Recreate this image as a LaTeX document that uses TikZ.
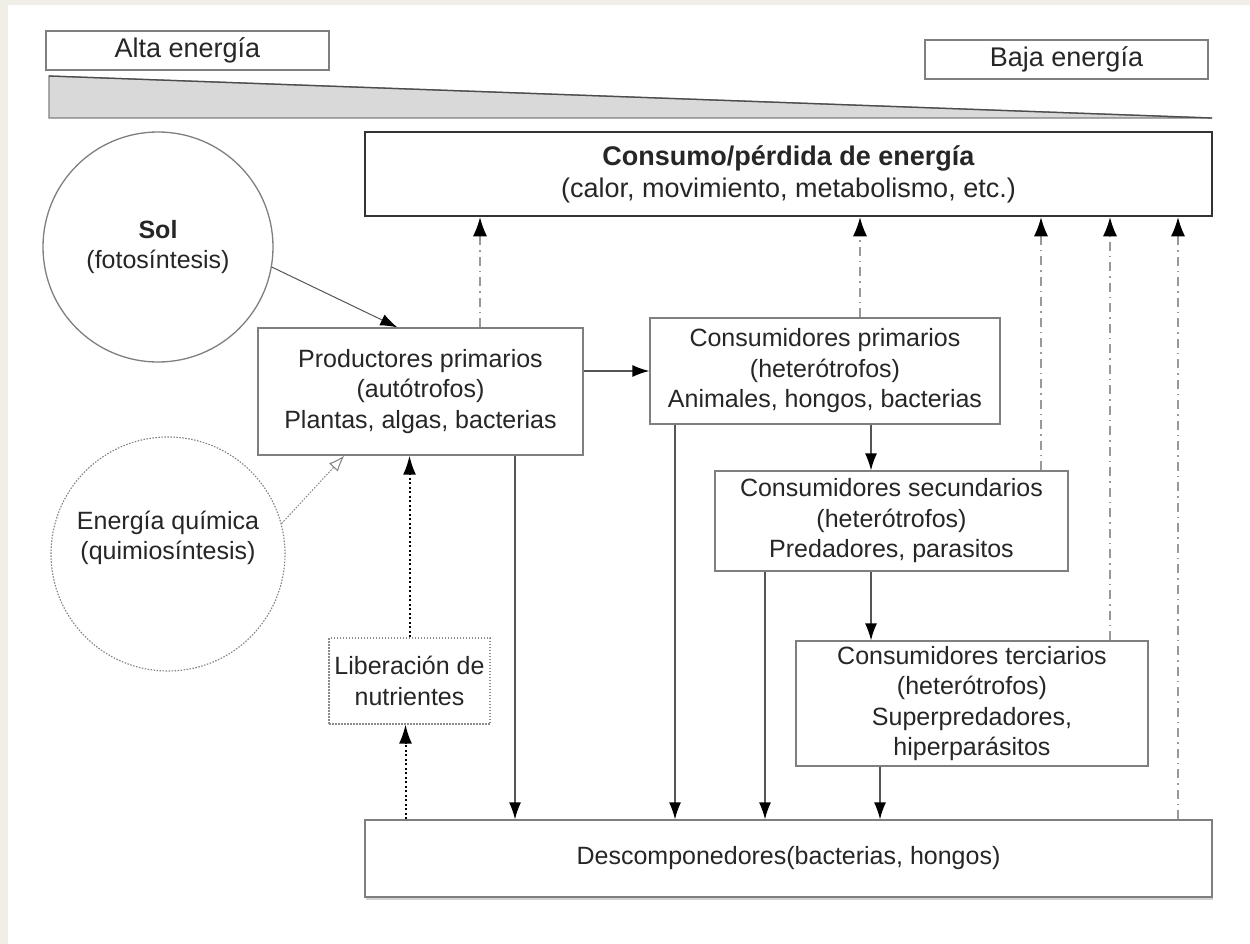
\documentclass[tikz,border=0pt]{standalone}
\usepackage{fontspec}
\setmainfont{Liberation Sans}
\usetikzlibrary{positioning}
\usetikzlibrary{calc}
\usetikzlibrary{arrows.meta}
\usetikzlibrary{shadows}

\definecolor{fondo}{HTML}{F1EEE7}
\definecolor{borde}{HTML}{7F7F7F}
\definecolor{linea}{HTML}{555555}
\definecolor{cuna}{HTML}{D9D9D9}

\tikzset{
    caja/.style={draw=borde, line width=1.3pt, fill=white, align=center, inner sep=0pt,
        text=black!85, font=\fontsize{25}{30.5}\selectfont},
    flecha/.style={-{Latex[length=17pt,width=12pt,color=black]}, draw=linea, line width=1.3pt},
    perdida/.style={-{Latex[length=19pt,width=14pt,color=black]}, draw=black!40, line width=1.3pt,
        dash pattern=on 9pt off 5pt on 1.5pt off 5pt},
    liberado/.style={-{Latex[length=19pt,width=13pt]}, black, line width=2pt,
        dash pattern=on 2pt off 2.5pt},
}

\begin{document}
\begin{tikzpicture}[x=1pt, y=-1pt]
    \useasboundingbox (0,0) rectangle (1250,944);
    \fill[fondo] (0,0) rectangle (1250,944);
    \fill[white] (8,5) rectangle (1250,944);

    \filldraw[fill=cuna, draw=borde, line width=1.2pt] (49,76) -- (1212,118) -- (49,118) -- cycle;
    \draw[black!70, line width=1.3pt] (49,76) -- (1212,118);

    \node[caja, minimum width=283pt, minimum height=39pt, font=\fontsize{27}{30}\selectfont] (alta) at (187.5,50.5) {Alta energía};
    \node[caja, minimum width=283pt, minimum height=39pt, font=\fontsize{27}{30}\selectfont] (baja) at (1066.5,59.5) {Baja energía};

    \node[caja, draw=black!80, line width=2.5pt, minimum width=847pt, minimum height=84pt,
        font=\fontsize{27}{32}\selectfont] (consumo) at (788.5,174)
        {\textbf{Consumo/pérdida de energía}\\(calor, movimiento, metabolismo, etc.)};

    \node[caja, circle, minimum size=230pt] (sol) at (158,247) {\textbf{Sol}\\(fotosíntesis)};
    \node[caja, circle, minimum size=234pt, line width=1.1pt, dash pattern=on 1.5pt off 1.5pt,
        label={[caja, draw=none, yshift=16pt]center:Energía química\\(quimiosíntesis)}] (quim) at (168,554) {};

    \node[caja, minimum width=325pt, minimum height=127pt] (prod) at (420.5,391.5)
        {Productores primarios\\(autótrofos)\\Plantas, algas, bacterias};
    \node[caja, minimum width=350pt, minimum height=106pt] (prim) at (825,371)
        {Consumidores primarios\\(heterótrofos)\\Animales, hongos, bacterias};
    \node[caja, minimum width=353pt, minimum height=100pt] (sec) at (891.5,521)
        {Consumidores secundarios\\(heterótrofos)\\Predadores, parasitos};
    \node[caja, minimum width=352pt, minimum height=125pt] (ter) at (972,703.5)
        {Consumidores terciarios\\(heterótrofos)\\Superpredadores,\\hiperparásitos};
    \node[caja, minimum width=161pt, minimum height=86pt, draw=black!45, line width=1.1pt,
        dash pattern=on 1.5pt off 1.5pt] (lib) at (409.5,681) {Liberación de\\nutrientes};
    \node[caja, minimum width=847pt, minimum height=77pt,
        drop shadow={shadow xshift=1pt, shadow yshift=-3pt, fill=black!35}] (desc) at (788.5,858.5)
        {Descomponedores(bacterias, hongos)};

    \draw[flecha, line width=1pt] (sol.-10) -- ([xshift=140pt]prod.north west);
    \draw[-{Latex[open,length=16pt,width=12pt]}, draw=black!50, line width=1pt,
        dash pattern=on 1.5pt off 1.5pt] (quim.15) -- ([xshift=87pt]prod.south west);

    \draw[flecha] (prod.east |- prim.west) -- (prim.west);
    \draw[flecha] ([xshift=94.5pt]prod.south) -- ([xshift=94.5pt]prod.south |- desc.north);
    \draw[flecha] ([xshift=-150pt]prim.south) -- ([xshift=-150pt]prim.south |- desc.north);
    \draw[flecha] ([xshift=46pt]prim.south) -- ([xshift=46pt]prim.south |- sec.north);
    \draw[flecha] ([xshift=-126.5pt]sec.south) -- ([xshift=-126.5pt]sec.south |- desc.north);
    \draw[flecha] ([xshift=-20.5pt]sec.south) -- ([xshift=-20.5pt]sec.south |- ter.north);
    \draw[flecha] ([xshift=-92pt]ter.south) -- ([xshift=-92pt]ter.south |- desc.north);

    \draw[liberado] (lib.north) -- (lib.north |- prod.south);
    \draw[liberado] ([xshift=-4pt]lib.south |- desc.north) -- ([xshift=-4pt]lib.south);

    \draw[perdida] ([xshift=59.5pt]prod.north) -- ([xshift=59.5pt]prod.north |- consumo.south);
    \draw[perdida] ([xshift=35pt]prim.north) -- ([xshift=35pt]prim.north |- consumo.south);
    \draw[perdida] ([xshift=149.5pt]sec.north) -- ([xshift=149.5pt]sec.north |- consumo.south);
    \draw[perdida] ([xshift=138pt]ter.north) -- ([xshift=138pt]ter.north |- consumo.south);
    \draw[perdida] ([xshift=389.5pt]desc.north) -- ([xshift=389.5pt]desc.north |- consumo.south);
\end{tikzpicture}
\end{document}
